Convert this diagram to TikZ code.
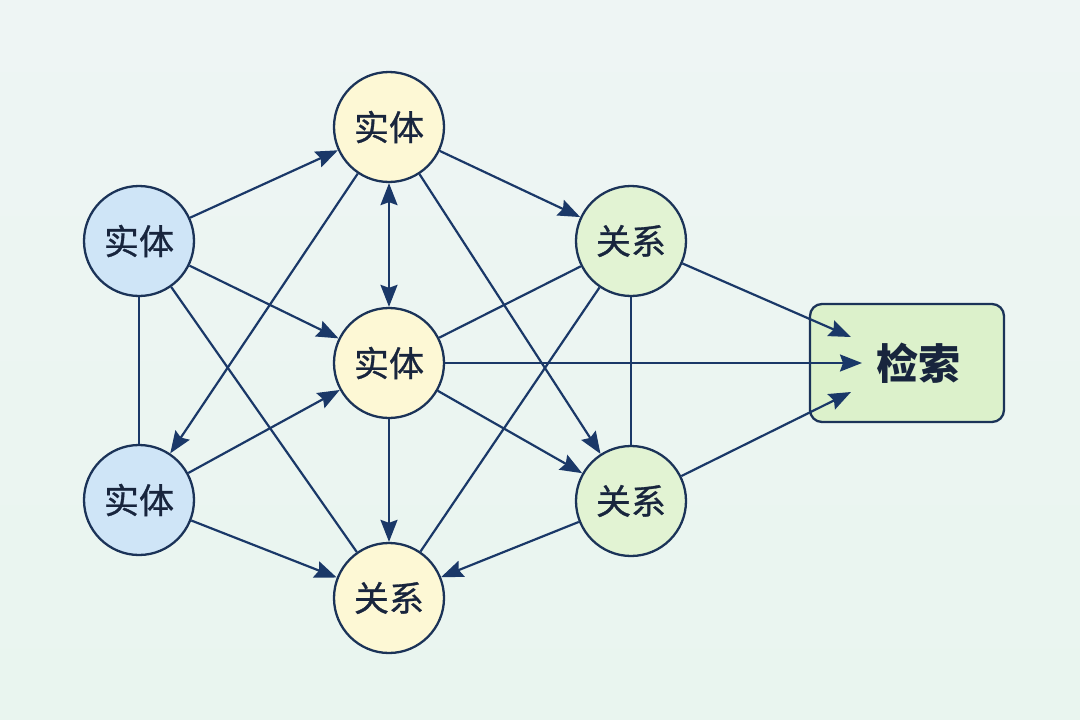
\documentclass[tikz,border=0pt]{standalone}
\usepackage{fontspec}
\setmainfont{Noto Sans CJK SC}
\newfontfamily\cjkmed{Noto Sans CJK SC}[FakeBold=0.8]
\usetikzlibrary{arrows.meta}
\definecolor{bgtop}{HTML}{EEF5F4}
\definecolor{bgbot}{HTML}{E9F5EF}
\definecolor{stroke}{HTML}{1B3358}
\definecolor{edge}{HTML}{1A3868}
\definecolor{txt}{HTML}{18253D}
\definecolor{fblue}{HTML}{CFE5F7}
\definecolor{fyellow}{HTML}{FDF8D5}
\definecolor{fgreen}{HTML}{E2F3D3}
\definecolor{fret}{HTML}{DCF1CB}
\begin{document}
\begin{tikzpicture}[x=1pt,y=-1pt,
  nd/.style={circle, draw=stroke, line width=2.3pt, minimum size=110pt, inner sep=0pt, text=txt, font=\cjkmed\fontsize{35}{35}\selectfont},
  bluenode/.style={nd, fill=fblue},
  yelnode/.style={nd, fill=fyellow},
  grnnode/.style={nd, fill=fgreen},
  retnode/.style={draw=stroke, line width=2.3pt, fill=fret, rounded corners=12pt, minimum width=194pt, minimum height=118pt, text=txt, font=\fontsize{42}{42}\selectfont\bfseries},
  ln/.style={draw=edge, line width=2.2pt},
  arr/.style={ln, -{Stealth[length=22pt,width=17pt,inset=3pt]}},
  darr/.style={ln, {Stealth[length=22pt,width=17pt,inset=3pt]}-{Stealth[length=22pt,width=17pt,inset=3pt]}}
]
\useasboundingbox (0,0) rectangle (1080,720);
\shade[top color=bgtop, bottom color=bgbot] (0,0) rectangle (1080,720);

\node[bluenode] (A) at (139,241) {实体};
\node[bluenode] (B) at (139,500) {实体};
\node[yelnode] (C) at (389,127) {实体};
\node[yelnode] (D) at (389,363) {实体};
\node[yelnode] (E) at (389,598) {关系};
\node[grnnode] (F) at (631,241) {关系};
\node[grnnode] (G) at (631,501) {关系};
\node[retnode] (H) at (907,363) {\hspace{22pt}检索};

\coordinate (h1) at (851,337);
\coordinate (h2) at (862,363);
\coordinate (h3) at (851,392);

\draw[arr] (A) -- (C);
\draw[arr] (A) -- (D);
\draw[ln] (A) -- (B);
\draw[ln] (A) -- (E);
\draw[darr] (C) -- (D);
\draw[arr] (C) -- (B);
\draw[arr] (C) -- (F);
\draw[arr] (C) -- (G);
\draw[arr] (B) -- (D);
\draw[arr] (B) -- (E);
\draw[arr] (D) -- (E);
\draw[arr] (D) -- (G);
\draw[arr] (D) -- (h2);
\draw[ln] (D) -- (F);
\draw[ln] (F) -- (E);
\draw[ln] (F) -- (G);
\draw[arr] (F) -- (h1);
\draw[arr] (G) -- (E);
\draw[arr] (G) -- (h3);
\end{tikzpicture}
\end{document}
